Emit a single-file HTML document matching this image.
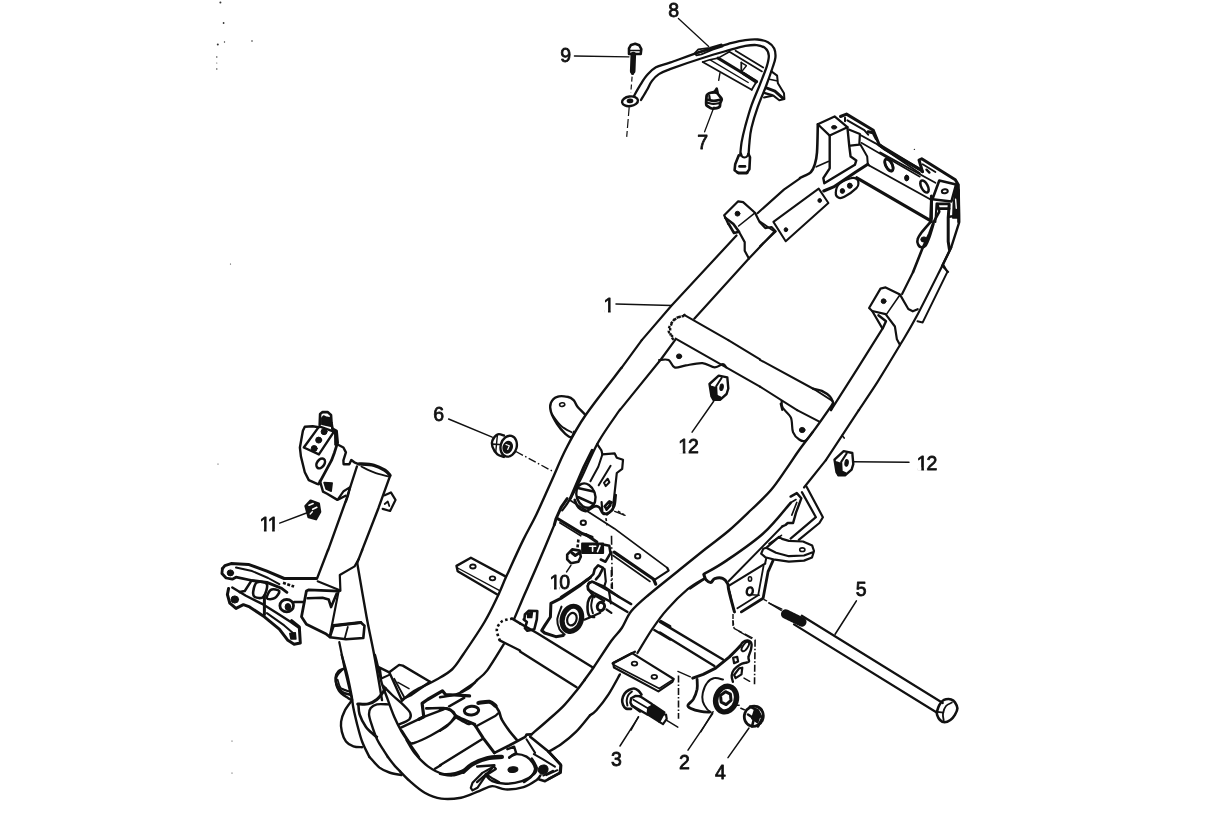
<!DOCTYPE html>
<html><head><meta charset="utf-8"><title>Frame</title>
<style>
html,body{margin:0;padding:0;background:#fff;}
body{width:1214px;height:829px;overflow:hidden;font-family:"Liberation Sans",sans-serif;}
svg{display:block;filter:grayscale(1);font-family:"Liberation Sans",sans-serif;}
</style></head><body>
<svg width="1214" height="829" viewBox="0 0 1214 829" fill="none" stroke="#111" stroke-width="1.6" stroke-linecap="round" stroke-linejoin="round">
<rect x="0" y="0" width="1214" height="829" fill="#fff" stroke="none"/>
<g transform="translate(673 17)"><text x="0" y="0" font-size="19.5" letter-spacing="-1.2" text-anchor="middle" fill="#111" stroke="#111" stroke-width="0.8">8</text></g>
<g transform="translate(565 62)"><text x="0" y="0" font-size="19.5" letter-spacing="-1.2" text-anchor="middle" fill="#111" stroke="#111" stroke-width="0.8">9</text></g>
<g transform="translate(702 149)"><text x="0" y="0" font-size="19.5" letter-spacing="-1.2" text-anchor="middle" fill="#111" stroke="#111" stroke-width="0.8">7</text></g>
<path d="M678.4 18.5 L708.7 46.5" fill="none" stroke="#111" stroke-width="1.3"/>
<path d="M574.4 56 L629 56.8" fill="none" stroke="#111" stroke-width="1.3"/>
<path d="M704.6 131.8 L714 107.1" fill="none" stroke="#111" stroke-width="1.3"/>
<path d="M634 96 C635 94.2 638.1 88.4 640.3 84.9 C642.5 81.4 644.5 78 647.1 75.1 C649.7 72.2 652 69.4 655.9 67.3 C659.8 65.2 662.6 65.2 670.6 62.4 C678.6 59.6 694.1 53.9 704.2 50.7 C714.2 47.5 724.1 45 730.9 43.2 C737.8 41.5 740.9 40.8 745.3 40.2 C749.8 39.5 753.9 39.2 757.7 39.5 C761.5 39.9 765.2 40.7 768 42.2 C770.7 43.7 772.9 45.8 774.2 48.4 C775.4 51 775.7 54.2 775.4 57.7 C775.1 61.1 773.7 64.2 772.1 69 C770.5 73.8 768.3 80.1 765.9 86.5 C763.5 92.8 760.1 100.2 757.7 107.1 C755.3 113.9 752.9 121.8 751.5 127.7 C750.1 133.5 749.9 137.7 749.5 142.1 C749 146.5 748.8 152 748.6 154" fill="none" stroke="#111" stroke-width="2.3"/>
<path d="M641 100 C642 98.3 645.3 92.9 647.1 89.7 C648.9 86.5 650 83.5 652 80.9 C654 78.3 655.9 76 658.9 74.1 C661.9 72.1 662.5 72 670 69.2 C677.5 66.4 694 60.7 704.2 57.5 C714.3 54.2 724.1 51.6 730.9 49.6 C737.8 47.7 741 46.7 745.3 45.9 C749.6 45.2 753.3 44.7 756.7 45.1 C760 45.5 763.5 46.6 765.5 48.4 C767.5 50.1 768.6 52.6 768.8 55.6 C769 58.6 768.3 61.4 766.8 66.3 C765.2 71.2 762.3 78.3 759.8 84.8 C757.2 91.4 753.9 98.6 751.5 105.4 C749.1 112.3 747 119.9 745.3 126 C743.7 132.1 742.5 137.2 741.6 142.1 C740.8 147 740.4 153.2 740.2 155.5" fill="none" stroke="#111" stroke-width="2.3"/>
<path d="M694.8 53.1 L698.3 49.4 L709.7 47.9 L721.5 44.4 L722.7 46.3 L712.6 49.7 L701.3 54.3 L696.3 55.3 Z" fill="none" stroke="#111" stroke-width="1.8"/>
<path d="M698.8 52.1 L709.7 49.2" fill="none" stroke="#111" stroke-width="2.4"/>
<path d="M702.7 62 L751.7 89.7" fill="none" stroke="#111" stroke-width="1.8"/>
<path d="M709.7 59.7 L748.2 82.5" fill="none" stroke="#111" stroke-width="1.4"/>
<path d="M718.1 58.1 L756.6 81.5" fill="none" stroke="#111" stroke-width="3"/>
<path d="M729.4 51.8 L762 71.4" fill="none" stroke="#111" stroke-width="1.8"/>
<path d="M735.6 50.8 L763.2 67.6" fill="none" stroke="#111" stroke-width="1.8"/>
<path d="M702.7 62 L709.7 59.7 L718.1 58.1 L729.4 51.8" fill="none" stroke="#111" stroke-width="1.6"/>
<path d="M741.3 62.5 L741.3 72.6" fill="none" stroke="#111" stroke-width="1.8"/>
<path d="M741.3 62.7 L746.4 65.7 L741.7 71.6" fill="none" stroke="#111" stroke-width="1.4"/>
<path d="M743.3 73.4 L756.1 81.8" fill="none" stroke="#111" stroke-width="3.2"/>
<path d="M751.7 89.7 L756.6 81.5" fill="none" stroke="#111" stroke-width="1.8"/>
<path d="M720 72.9 L718.7 80.3" fill="none" stroke="#111" stroke-width="1.4"/>
<path d="M771.4 71.4 L777.1 75.6 L777.9 83.3 L784 93.3 L784.4 99.1 L779.3 100.3 L773.4 95.6 L764 97.6" fill="none" stroke="#111" stroke-width="2"/>
<path d="M769.5 79.3 L776.4 80.8" fill="none" stroke="#111" stroke-width="1.6"/>
<path d="M767 88.2 L774.9 91.2 L782.8 98.1" fill="none" stroke="#111" stroke-width="3"/>
<path d="M765 93.1 L771.9 95.1" fill="none" stroke="#111" stroke-width="2.4"/>
<path d="M629 48.4 L631 44.9 L635.2 43.7 L639.3 45.3 L641.3 49 L640.7 54 L629 54 Z" fill="none" stroke="#111" stroke-width="2.6"/>
<path d="M630 50.5 L640.7 50.5" fill="none" stroke="#111" stroke-width="1.4"/>
<path d="M633.3 54.5 L632.7 71" fill="none" stroke="#111" stroke-width="5.6"/>
<path d="M632.7 71 L632.6 73.5" fill="none" stroke="#111" stroke-width="3.2"/>
<path d="M632.1 76.6 L630.8 92.7" fill="none" stroke="#111" stroke-width="1.2" stroke-dasharray="5 3" stroke-linecap="butt"/>
<path d="M629.2 107.1 L626.7 136.9" fill="none" stroke="#111" stroke-width="1.2" stroke-dasharray="9 3" stroke-linecap="butt"/>
<ellipse cx="630" cy="101.3" rx="8" ry="4.8" transform="rotate(-8 630 101.3)" fill="none" stroke="#111" stroke-width="2.4"/>
<ellipse cx="630" cy="100.9" rx="2.6" ry="1.6" transform="rotate(-8 630 100.9)" fill="#111" stroke="#111" stroke-width="1.6"/>
<path d="M706.8 95.3 C707.2 94.2 707.8 93.9 708.8 93.4 C709.8 92.9 711.5 92.5 712.8 92.4 C714.1 92.3 715.6 92.2 716.7 92.9 C717.9 93.6 718.9 95.2 719.7 96.3 C720.5 97.4 721.6 98.1 721.7 99.3 C721.8 100.5 720.5 102.1 720.2 103.3 C719.9 104.5 720.3 105.9 719.7 106.7 C719.1 107.5 718 107.9 716.7 108.2 C715.4 108.5 713.2 108.8 711.8 108.5 C710.4 108.2 709.2 107.3 708.3 106.7 C707.4 106.1 706.6 106 706.3 104.8 C706 103.6 706.2 101.4 706.3 99.8 C706.4 98.2 706.4 96.4 706.8 95.3 Z" fill="none" stroke="#111" stroke-width="2.8"/>
<path d="M712.8 92.4 L714.8 91.4 L716.7 88.4 L717.7 92.6" fill="none" stroke="#111" stroke-width="2.4"/>
<path d="M707.8 99.8 C708.8 100 711.7 100.9 713.8 100.9 C715.9 100.9 719.1 100 720.2 99.8" fill="none" stroke="#111" stroke-width="2.6"/>
<path d="M707.3 102.6 C708.3 102.8 711.2 103.9 713.3 104 C715.4 104.1 718.6 103.2 719.7 103" fill="none" stroke="#111" stroke-width="2.2"/>
<path d="M709.3 95.8 L709.8 99.3" fill="none" stroke="#111" stroke-width="2.2"/>
<path d="M817.8 124.3 L834.6 116.4 L847.4 127.2 L829.7 135.6 Z" fill="none" stroke="#111" stroke-width="2.2"/>
<ellipse cx="834.1" cy="127.3" rx="2.6" ry="1.8" transform="rotate(0 834.1 127.3)" fill="#111" stroke="#111" stroke-width="1"/>
<path d="M817.8 124.3 C817.7 129 817.5 145.8 817 152.4 C816.5 159.1 815.8 161 814.8 164.3 C813.8 167.6 812.5 170.3 810.9 172.2 C809.2 174.1 806.8 174.7 804.9 175.7 C803.1 176.6 800.8 177.6 800 177.9" fill="none" stroke="#111" stroke-width="2.6"/>
<path d="M829.7 135.6 L829.7 168.3 L823.3 178.1 L824.3 183.3 L854.9 164.8 L856.3 160.4 L850.6 156.6 L849.2 145.5 L847.4 127.2" fill="none" stroke="#111" stroke-width="2.4"/>
<path d="M828.2 161.5 L816.3 166.8" fill="none" stroke="#111" stroke-width="1.8"/>
<path d="M840.5 116.5 L846.5 114.1 L873.3 130.3 L879.1 144.5 L884 148.7 L919.9 169.4" fill="none" stroke="#111" stroke-width="3"/>
<path d="M845 117.4 L845 121.3" fill="none" stroke="#111" stroke-width="2"/>
<path d="M847.4 120.3 L864.3 130.2 L868.2 134.7" fill="none" stroke="#111" stroke-width="2"/>
<path d="M868.2 131.7 L873.1 132.7 L876.1 138.6" fill="none" stroke="#111" stroke-width="3"/>
<path d="M849.4 129.7 L859.9 133.9 L859.3 144.7 L850.4 145.7" fill="none" stroke="#111" stroke-width="2.2"/>
<path d="M859.9 134.7 L875.1 143.1 L919.9 173.2" fill="none" stroke="#111" stroke-width="1.8"/>
<path d="M861.3 142.8 L919.9 176.7" fill="none" stroke="#111" stroke-width="1.6"/>
<path d="M860.5 144.7 L867.2 156.6 L867.8 164.3 L869.2 165.5" fill="none" stroke="#111" stroke-width="2"/>
<path d="M869.2 165.5 L930.6 199.5" fill="none" stroke="#111" stroke-width="2"/>
<path d="M856.8 177.8 L931.3 221.1" fill="none" stroke="#111" stroke-width="3.2"/>
<path d="M867.8 164.3 L855.4 172.2 L833.6 186.9 L823.7 191" fill="none" stroke="#111" stroke-width="3"/>
<ellipse cx="889" cy="164.8" rx="3.2" ry="6.6" transform="rotate(-28 889 164.8)" fill="none" stroke="#111" stroke-width="2.6"/>
<ellipse cx="906.8" cy="177.7" rx="1.8" ry="2.6" transform="rotate(0 906.8 177.7)" fill="#111" stroke="#111" stroke-width="1"/>
<path d="M880 145.4 L919.5 169.2 L922.5 171.6" fill="none" stroke="#111" stroke-width="3"/>
<path d="M922.5 171.6 L919 160 L921.7 158.8 L955.3 179.7 L958.3 184.7 L958.7 221.9" fill="none" stroke="#111" stroke-width="3"/>
<path d="M922.7 164.2 L935.4 172.1" fill="none" stroke="#111" stroke-width="1.8"/>
<path d="M926.5 169.7 L929.4 172.6" fill="none" stroke="#111" stroke-width="2.4"/>
<path d="M880 152.4 L935.4 182.7" fill="none" stroke="#111" stroke-width="1.8"/>
<ellipse cx="888.9" cy="165.2" rx="3.2" ry="6.6" transform="rotate(-28 888.9 165.2)" fill="none" stroke="#111" stroke-width="2.6"/>
<ellipse cx="924.5" cy="186.5" rx="3.2" ry="6.6" transform="rotate(-28 924.5 186.5)" fill="none" stroke="#111" stroke-width="2.6"/>
<ellipse cx="906.7" cy="178.1" rx="2" ry="2.8" transform="rotate(0 906.7 178.1)" fill="#111" stroke="#111" stroke-width="1"/>
<path d="M939.3 180.5 L956.1 184.5 L951.4 201.5 L932.4 199.3 Z" fill="none" stroke="#111" stroke-width="2.6"/>
<ellipse cx="944.8" cy="191.2" rx="3" ry="2" transform="rotate(-8 944.8 191.2)" fill="none" stroke="#111" stroke-width="2.0"/>
<path d="M956.3 186 L953.3 203.3 L952.8 218.1 L958.1 218.1 L958.3 187.4 Z" fill="#111" stroke="#111" stroke-width="1.5"/>
<path d="M955.6 199.3 L956.3 208.2" fill="none" stroke="#fff" stroke-width="1.4"/>
<path d="M931.6 199.5 L930.6 221.9" fill="none" stroke="#111" stroke-width="3"/>
<path d="M936.5 203.5 L935.4 221.9" fill="none" stroke="#111" stroke-width="2"/>
<path d="M938.3 204.3 L949.2 204.3" fill="none" stroke="#111" stroke-width="2"/>
<path d="M938.3 208.4 L948.4 208.4" fill="none" stroke="#111" stroke-width="2"/>
<path d="M931.4 195.9 L931.4 218.7" fill="none" stroke="#111" stroke-width="3"/>
<path d="M937.3 203.8 L939.3 211.7 L933.4 222.6 L929.4 233.5 L922.5 248.3 L913.1 271.9" fill="none" stroke="#111" stroke-width="2.6"/>
<path d="M958.7 190 L959.1 214.7 L959.1 222.6 L951.2 247.3 L942.1 266.1" fill="none" stroke="#111" stroke-width="2.4"/>
<path d="M949.2 204.8 L948.2 217.7 L948.2 241.4 L949.4 249.3" fill="none" stroke="#111" stroke-width="3"/>
<path d="M949.2 216.7 L955.1 215.9 L958.1 214.7" fill="none" stroke="#111" stroke-width="2.4"/>
<path d="M938.3 203.8 L949.2 203.8" fill="none" stroke="#111" stroke-width="2.4"/>
<path d="M938.3 208.8 L949.2 208.8" fill="none" stroke="#111" stroke-width="2.4"/>
<path d="M943.3 267.1 L948.2 271.9" fill="none" stroke="#111" stroke-width="2"/>
<path d="M929.9 222.6 C928.5 224.3 923.6 229.7 921.5 232.5 C919.5 235.3 918.1 237.4 917.6 239.4 C917 241.4 917.4 243 918.1 244.4 C918.7 245.7 920.2 247.2 921.5 247.3 C922.8 247.5 924.3 247.2 925.7 245.4 C927 243.5 928.3 240 929.6 236.5 C930.9 232.9 932.8 226.2 933.4 224.1" fill="none" stroke="#111" stroke-width="2.6"/>
<ellipse cx="924" cy="239.5" rx="3.2" ry="2.6" transform="rotate(0 924 239.5)" fill="#111" stroke="#111" stroke-width="1"/>
<path d="M835.8 192.7 C835.9 190.4 836.6 186.4 839.1 184 C841.5 181.6 847.7 179.1 850.6 178.3 C853.6 177.4 855.5 178.2 856.8 179.1 C858.1 179.9 858.5 181.9 858.4 183.4 C858.4 184.9 858.7 185.9 856.4 188.1 C854 190.4 847.5 195.2 844.4 196.8 C841.4 198.4 839.7 198.3 838.3 197.6 C836.8 196.9 835.6 194.9 835.8 192.7 Z" fill="none" stroke="#111" stroke-width="2.2"/>
<ellipse cx="842.4" cy="191" rx="2.2" ry="2.4" transform="rotate(0 842.4 191)" fill="#111" stroke="#111" stroke-width="1"/>
<ellipse cx="849.8" cy="185.7" rx="2.4" ry="2.6" transform="rotate(0 849.8 185.7)" fill="#111" stroke="#111" stroke-width="1"/>
<path d="M773.4 221.9 L818.7 188.6 L828.4 203 L785.7 241.3 Z" fill="none" stroke="#111" stroke-width="2"/>
<ellipse cx="819.7" cy="200.5" rx="1.8" ry="2" transform="rotate(0 819.7 200.5)" fill="#111" stroke="#111" stroke-width="1"/>
<ellipse cx="785.9" cy="229.7" rx="1.8" ry="2" transform="rotate(0 785.9 229.7)" fill="#111" stroke="#111" stroke-width="1"/>
<path d="M775.4 231.8 L760 246.2" fill="none" stroke="#111" stroke-width="2"/>
<path d="M760 221.5 L769.3 228.1 L774.8 231.8" fill="none" stroke="#111" stroke-width="1.8"/>
<g transform="translate(608.4 312)"><text x="0" y="0" font-size="19.5" letter-spacing="-1.2" text-anchor="middle" fill="#111" stroke="#111" stroke-width="0.8">1</text><rect x="-4.23" y="-2.15" width="3.85" height="3.5" fill="#fff" stroke="none"/><rect x="2.27" y="-2.15" width="3.4" height="3.5" fill="#fff" stroke="none"/></g>
<path d="M616 303.9 L671.6 305.5" fill="none" stroke="#111" stroke-width="1.5"/>
<path d="M641.8 340.1 L671.6 305.5 L736.5 235.5" fill="none" stroke="#111" stroke-width="2.2"/>
<path d="M757.5 213.2 L783.9 189.6 L800 178.3" fill="none" stroke="#111" stroke-width="2.2"/>
<path d="M694.3 318.7 L748.9 258.6 L774.6 231.4" fill="none" stroke="#111" stroke-width="2.2"/>
<path d="M728.3 224 L724.2 215.3 L738.2 201.3 L743.1 202.1 L755 212.8 L759.6 221.9 L765.3 228.1 L771.5 227 L775.6 231.2" fill="none" stroke="#111" stroke-width="2.2"/>
<path d="M738.6 226 L755 212.8" fill="none" stroke="#111" stroke-width="1.6"/>
<path d="M725.2 217.8 L733.4 224 L739 231.8 L734 233 L728.7 224" fill="none" stroke="#111" stroke-width="2.6"/>
<path d="M739 231.8 L744.7 242.1 L744.7 250.7 L748.9 258.6" fill="none" stroke="#111" stroke-width="2.2"/>
<ellipse cx="737.5" cy="213.7" rx="2.4" ry="2.4" transform="rotate(0 737.5 213.7)" fill="#111" stroke="#111" stroke-width="1"/>
<path d="M685 315.4 L728.3 340.1" fill="none" stroke="#111" stroke-width="2"/>
<path d="M684 315.8 C682.5 316.3 677.4 316.9 675.1 318.7 C672.9 320.5 671.4 323.8 670.6 326.5 C669.9 329.2 670.1 332.5 670.6 334.7 C671.1 337 673.2 339.2 673.7 340.1" fill="none" stroke="#111" stroke-width="2.4" stroke-dasharray="2.5 2.5" stroke-linecap="butt"/>
<path d="M913.1 272 L902.1 294" fill="none" stroke="#111" stroke-width="2.2"/>
<path d="M882.5 328.6 L856.8 369.7 L831 410.1" fill="none" stroke="#111" stroke-width="2.2"/>
<path d="M951.2 247.4 C949.8 250.3 948.6 253.2 942.8 264.7 C937 276.2 923.6 303.2 916.5 316.6 C909.4 330 906.6 334.1 900 345 C893.5 355.9 884.2 371.2 877.4 382.1 C870.5 392.9 861.9 405.4 858.8 410.1" fill="none" stroke="#111" stroke-width="2.2"/>
<path d="M943.3 264.7 L947.4 271.9 L922.7 322.4 L917.5 321.3" fill="none" stroke="#111" stroke-width="2"/>
<path d="M882.5 328.6 L872.2 311 L869.1 308 L880.5 288.6 L885.6 287.4 L900 294.6 L908.3 309 L912.8 311.3 L917.7 309.2" fill="none" stroke="#111" stroke-width="2.2"/>
<path d="M872.2 311 L885.6 314.1 L894.9 326.5 L896.9 339.3 L900 345" fill="none" stroke="#111" stroke-width="2.2"/>
<path d="M886.6 314.1 L900 294.8" fill="none" stroke="#111" stroke-width="1.6"/>
<path d="M878.4 315.2 L886 321.3 L882.9 328.1" fill="none" stroke="#111" stroke-width="2.4"/>
<ellipse cx="883.6" cy="301.2" rx="2.4" ry="2.4" transform="rotate(0 883.6 301.2)" fill="#111" stroke="#111" stroke-width="1"/>
<path d="M760 359.9 L814.6 389.5 L832.5 401" fill="none" stroke="#111" stroke-width="2"/>
<path d="M813.1 388.7 C814.6 389.1 819 389.6 821.8 390.9 C824.6 392.3 828.1 394.5 830 396.5 C831.9 398.5 832.8 402 833.3 403.1" fill="none" stroke="#111" stroke-width="2.4"/>
<path d="M760 386.6 L797.1 410.1" fill="none" stroke="#111" stroke-width="2"/>
<path d="M780.6 403.7 L782.2 410.1" fill="none" stroke="#111" stroke-width="2"/>
<g transform="translate(688 452.5)"><text x="0" y="0" font-size="19.5" letter-spacing="-1.2" text-anchor="middle" fill="#111" stroke="#111" stroke-width="0.8">12</text><rect x="-9.05" y="-2.15" width="3.85" height="3.5" fill="#fff" stroke="none"/><rect x="-2.55" y="-2.15" width="2.99" height="3.5" fill="#fff" stroke="none"/></g>
<path d="M713.7 401.2 L692.1 432.1" fill="none" stroke="#111" stroke-width="1.5"/>
<path d="M641.8 340.1 L621.5 367.8" fill="none" stroke="#111" stroke-width="2.2"/>
<path d="M675.2 339.8 L661.2 359 L620 409.9" fill="none" stroke="#111" stroke-width="2.2"/>
<path d="M728.3 340.1 L760 359.4" fill="none" stroke="#111" stroke-width="2"/>
<path d="M675.6 338.6 L760 386.6" fill="none" stroke="#111" stroke-width="2"/>
<path d="M797.1 410.1 L819.8 421.8" fill="none" stroke="#111" stroke-width="2"/>
<path d="M685.5 314.7 C683.6 315.6 676.8 317.4 674 320.1 C671.1 322.7 668.5 327.7 668.6 330.8 C668.7 333.9 673.7 337.3 674.8 338.6" fill="none" stroke="#111" stroke-width="2.4" stroke-dasharray="2.5 2.5" stroke-linecap="butt"/>
<path d="M659.1 360 C660.7 360 666 358.8 668.6 360 C671.2 361.3 671.7 366.5 674.6 367.4 C677.5 368.3 681.3 366.1 685.9 365.4 C690.5 364.6 697.6 362.8 702.4 363.1 C707.2 363.4 711.3 367.3 714.7 367.4 C718.2 367.6 721 364.1 723 364.1 C724.9 364.1 725.7 366.9 726.3 367.4" fill="none" stroke="#111" stroke-width="2.2"/>
<ellipse cx="679.1" cy="356.3" rx="2.6" ry="2.4" transform="rotate(0 679.1 356.3)" fill="#111" stroke="#111" stroke-width="1"/>
<path d="M781.7 401.2 C781.8 402.3 781.1 405 782.7 407.8 C784.2 410.5 789.2 413.6 790.9 417.7 C792.6 421.7 791.6 428.5 793 432.1 C794.4 435.7 797.1 438.1 799.2 439.5 C801.2 440.9 803.1 442 805.3 440.7 C807.6 439.5 811.5 433.5 812.8 432.1" fill="none" stroke="#111" stroke-width="2.2"/>
<ellipse cx="802.2" cy="430" rx="2.8" ry="2.6" transform="rotate(0 802.2 430)" fill="#111" stroke="#111" stroke-width="1"/>
<path d="M858.8 410.1 L825.9 460.1" fill="none" stroke="#111" stroke-width="2.2"/>
<g transform="translate(926.5 469.5)"><text x="0" y="0" font-size="19.5" letter-spacing="-1.2" text-anchor="middle" fill="#111" stroke="#111" stroke-width="0.8">12</text><rect x="-9.05" y="-2.15" width="3.85" height="3.5" fill="#fff" stroke="none"/><rect x="-2.55" y="-2.15" width="2.99" height="3.5" fill="#fff" stroke="none"/></g>
<path d="M853.4 461.8 L909 462.2" fill="none" stroke="#111" stroke-width="1.5"/>
<path d="M825.9 460.1 L804 487.5" fill="none" stroke="#111" stroke-width="2.2"/>
<path d="M842.1 435.4 L844.2 438.1" fill="none" stroke="#111" stroke-width="1.6"/>
<path d="M790.6 502.8 C786.1 507.8 774.5 523.2 763.8 532.9 C753.2 542.5 736.7 553.6 726.8 560.4 C716.8 567.3 707.9 571.8 704.1 574" fill="none" stroke="#111" stroke-width="2.6"/>
<path d="M806.3 486.3 L822.9 517.2 L819.4 523 L798.8 539.9" fill="none" stroke="#111" stroke-width="2.2"/>
<path d="M801.9 492.1 L815.9 517.2 L790.6 538.6" fill="none" stroke="#111" stroke-width="2.2"/>
<path d="M790.6 496.6 L796.8 493.1 L801.3 498.3 L796 512.7 L793.1 523 L787.7 523 L785.5 525 L782.4 526.3" fill="none" stroke="#111" stroke-width="2.4"/>
<path d="M790.6 502.8 L796 499.5" fill="none" stroke="#111" stroke-width="1.6"/>
<path d="M791.8 515.1 L796.8 502.4" fill="none" stroke="#111" stroke-width="1.6"/>
<path d="M782.4 526.3 L728.8 581" fill="none" stroke="#111" stroke-width="2"/>
<path d="M781.5 535.3 L769 543.6" fill="none" stroke="#111" stroke-width="1.6"/>
<path d="M766.2 547.8 L763.2 548.8 L761.2 553.7 L765.2 557.2 L775 559.7 L788.9 561.6 L804 560.6 L812 557.5 L814 551 L812.2 545.6 L803 541.5 L788.9 540.9 L782 538.9 L779 536.9 L766.2 547.8 L776 552.7 L788.9 556.2 L804 555.5 L813.5 552" fill="none" stroke="#111" stroke-width="2.2"/>
<ellipse cx="802.3" cy="549.7" rx="2.6" ry="1.8" transform="rotate(0 802.3 549.7)" fill="none" stroke="#111" stroke-width="1.6"/>
<g transform="translate(860.5 595.5)"><text x="0" y="0" font-size="19.5" letter-spacing="-1.2" text-anchor="middle" fill="#111" stroke="#111" stroke-width="0.8">5</text></g>
<path d="M856.4 600.9 L835.1 634.3" fill="none" stroke="#111" stroke-width="1.6"/>
<path d="M801.8 615.7 L942.8 703" fill="none" stroke="#111" stroke-width="2.2"/>
<path d="M794 624.4 L936.7 712.5" fill="none" stroke="#111" stroke-width="2.2"/>
<path d="M785.7 614.1 L801.8 621.9" stroke="#111" stroke-width="9.5" stroke-linecap="round" stroke-dasharray="2.2 1.2"/>
<path d="M768.8 602.9 L781.2 610.4" fill="none" stroke="#111" stroke-width="1.4"/>
<path d="M942.3 701.1 C943.4 700.1 944.5 699.6 946 699.3 C947.5 699 949.6 698.9 951.1 699.4 C952.6 699.9 953.9 700.7 954.9 702.2 C955.9 703.7 957.4 706.1 957.4 708.2 C957.4 710.3 956.1 712.8 954.9 714.8 C953.7 716.8 952.1 718.8 950.4 720 C948.7 721.2 946.2 722.3 944.5 722.3 C942.8 722.3 941.2 721.2 940 720 C938.8 718.8 937.6 716.3 937.1 714.8 C936.6 713.3 936.7 712.7 937.1 711.1 C937.5 709.5 938.4 706.9 939.3 705.2 C940.2 703.5 941.2 702.1 942.3 701.1 Z" fill="none" stroke="#111" stroke-width="2.6"/>
<path d="M951.9 702.6 C950.9 703.2 947.5 704.2 946 706 C944.5 707.8 943.4 711 943 713.4 C942.6 715.8 943.6 719.3 943.7 720.5" fill="none" stroke="#111" stroke-width="1.8"/>
<path d="M937.4 711.9 L943.4 712.6" fill="none" stroke="#111" stroke-width="1.6"/>
<path d="M692.7 678.1 L703.2 674.4 L715.6 668.2 L729.2 657.1 L736.6 649.7 L740.3 645.9" fill="none" stroke="#111" stroke-width="3"/>
<path d="M740.3 645.9 C740.7 645.3 741.5 643.1 742.8 642.2 C744 641.3 746.3 640.3 747.7 640.5 C749.2 640.7 750.9 642 751.4 643.5 C752 645 751.4 647.4 750.9 649.7 C750.4 651.9 748.8 655.1 748.5 657.1 C748.1 659 749.5 660.6 749 661.5 C748.4 662.5 746.7 662.3 745.3 662.8 C743.8 663.2 742.2 663.4 740.3 664.5 C738.5 665.6 735.6 667.6 734.1 669.4 C732.7 671.3 731.9 673.5 731.7 675.6 C731.5 677.7 732.7 680.7 732.9 681.8" fill="none" stroke="#111" stroke-width="2.4"/>
<ellipse cx="745.3" cy="646.6" rx="2.4" ry="5.4" transform="rotate(35 745.3 646.6)" fill="none" stroke="#111" stroke-width="2.0"/>
<path d="M733.1 657.7 L737.2 656.8 L738.1 661.4 L734.1 663.2 Z" fill="none" stroke="#111" stroke-width="2.2"/>
<path d="M734.1 675 L739.1 668.4 L742.3 667.7 L741.5 674.4 L735.6 678.1 Z" fill="none" stroke="#111" stroke-width="2.2"/>
<path d="M697.1 679.3 C697.1 681 697.7 685.9 697.1 689.2 C696.4 692.5 694.9 696.4 693.4 699.1 C691.8 701.8 688.3 703.7 687.9 705.3 C687.5 706.8 688.7 707.4 690.9 708.5 C693 709.5 697.7 710.8 700.8 711.4 C703.9 712.1 708 712.1 709.4 712.2" fill="none" stroke="#111" stroke-width="2.8"/>
<path d="M723 679.6 C721.6 679.3 717 677.5 714.4 678.1 C711.7 678.6 708.9 680.5 707 683 C705 685.5 703.5 689.8 702.8 692.9 C702.1 696 702.1 698.9 702.8 701.5 C703.5 704.2 705.6 707.2 707 709 C708.3 710.7 710.2 711.6 710.9 712.2" fill="none" stroke="#111" stroke-width="2"/>
<ellipse cx="726.1" cy="699.1" rx="10.2" ry="13" transform="rotate(18 726.1 699.1)" fill="none" stroke="#111" stroke-width="5.4"/>
<path d="M720.5 695.4 L725.5 691.7 L730.4 694.1 L731 700.3 L726.1 704.6 L721.2 702.2 Z" fill="none" stroke="#111" stroke-width="3"/>
<path d="M736.6 705.3 L739.1 705.3" fill="none" stroke="#111" stroke-width="1.6"/>
<path d="M740.9 708.3 L744.3 709.7" fill="none" stroke="#111" stroke-width="1.6"/>
<path d="M677.9 671.4 L690.4 676.8" fill="none" stroke="#111" stroke-width="1.4"/>
<path d="M678.5 675.6 L678.5 718.8" fill="none" stroke="#111" stroke-width="1.6" stroke-dasharray="7 2 1.5 2" stroke-linecap="butt"/>
<path d="M755.1 639.8 L754.5 684.3" fill="none" stroke="#111" stroke-width="1.6" stroke-dasharray="7 2 1.5 2" stroke-linecap="butt"/>
<path d="M739.1 631.4 L751.4 638.5" fill="none" stroke="#111" stroke-width="1.4"/>
<path d="M732.9 620 L734.1 628.6" fill="none" stroke="#111" stroke-width="1.4" stroke-dasharray="5 2" stroke-linecap="butt"/>
<path d="M744 678.1 L749.7 681.3" fill="none" stroke="#111" stroke-width="1.4"/>
<path d="M660 621.9 L723 659.5" fill="none" stroke="#111" stroke-width="2.4"/>
<path d="M660 632.4 L714.4 666" fill="none" stroke="#111" stroke-width="2.4"/>
<path d="M713.1 711.7 L700.8 731.8" fill="none" stroke="#111" stroke-width="1.5"/>
<ellipse cx="753.8" cy="716.2" rx="9.4" ry="10.2" transform="rotate(20 753.8 716.2)" fill="none" stroke="#111" stroke-width="2.8"/>
<path d="M750 706.5 L758 710.5 L762 718.5 L758 726.5" fill="none" stroke="#111" stroke-width="2.6"/>
<path d="M748 714.5 L754 718.5 L752 726.5" fill="none" stroke="#111" stroke-width="2.6"/>
<path d="M755 709 L760 714.5 L757.5 722.5 L752 718.5 Z" fill="#111" stroke="#111" stroke-width="2"/>
<path d="M831 410.1 L832.8 403.8" fill="none" stroke="#111" stroke-width="2.2"/>
<path d="M832.8 403.8 C830 407.8 821.6 419.9 816 427.6 C810.4 435.3 804.1 443.2 799.2 450 C794.3 456.8 791.2 461.9 786.5 468.6 C781.8 475.3 776.8 483.2 771 490 C765.2 496.8 758.5 502.8 751.5 509.5 C744.5 516.2 736.6 524 729 530.5 C721.4 537 714.6 541.7 706 548.5 C697.4 555.3 687.1 563.8 677.5 571.5 C667.9 579.2 656.2 588.4 648.5 595 C640.8 601.6 635.7 605.8 631.2 611.3 C626.8 616.8 625.1 623 621.8 628 C618.5 633 615.9 634.5 611.2 641 C606.6 647.5 598.3 660.5 593.9 667 C589.5 673.5 586.1 677.8 584.6 680" fill="none" stroke="#111" stroke-width="2.4"/>
<path d="M704.2 578.5 C701.4 580.3 693.9 584.1 687.7 589.2 C681.5 594.4 672.9 602.9 667.1 609.4 C661.2 615.9 657.6 621.1 652.7 628.4 C647.7 635.6 640 649 637.4 653.1" fill="none" stroke="#111" stroke-width="2.2"/>
<path d="M619.9 674.4 C618 677.7 612.6 688.1 608.7 694.1 C604.8 700.1 599.5 706.7 596.4 710.2 C593.3 713.7 591.1 714.4 590 715.2" fill="none" stroke="#111" stroke-width="2.4"/>
<path d="M703.8 574.5 C704.2 575.3 704.7 578.1 705.8 579.4 C707 580.7 709.3 582.5 710.8 582.4 C712.2 582.3 712.7 579.3 714.7 578.6 C716.7 578 720.5 577.6 722.6 578.4 C724.8 579.2 726.6 581.6 727.6 583.4 C728.6 585.2 727.9 586.3 728.6 589.3 C729.2 592.3 730.5 597.4 731.5 601.2 C732.5 604.9 734 610.1 734.5 611.9" fill="none" stroke="#111" stroke-width="3"/>
<path d="M729.7 591.5 L733.5 609.1" fill="none" stroke="#111" stroke-width="1.6"/>
<path d="M690 588.5 L703.8 579.4" fill="none" stroke="#111" stroke-width="2.2"/>
<path d="M729.5 585.4 L765.1 563.6" fill="none" stroke="#111" stroke-width="2.2"/>
<path d="M766.1 558.7 L765.1 563.6" fill="none" stroke="#111" stroke-width="2"/>
<path d="M773 560.6 L769.1 569.5 L768.1 571.5 L763.1 598.2 L741.4 611.9" fill="none" stroke="#111" stroke-width="2.8"/>
<path d="M763.6 565.6 L758.2 595.2 L737.4 608.3" fill="none" stroke="#111" stroke-width="1.8"/>
<ellipse cx="750" cy="579" rx="1.6" ry="2.2" transform="rotate(0 750 579)" fill="none" stroke="#111" stroke-width="1.6"/>
<ellipse cx="749.8" cy="591.3" rx="3" ry="4" transform="rotate(15 749.8 591.3)" fill="none" stroke="#111" stroke-width="2.4"/>
<path d="M751.3 594.8 L759.2 595.2" fill="none" stroke="#111" stroke-width="1.6"/>
<path d="M764.1 599.7 L766.6 600.8" fill="none" stroke="#111" stroke-width="1.4"/>
<path d="M769.1 603.1 L781.9 609.1" fill="none" stroke="#111" stroke-width="1.4"/>
<path d="M733 614 L733 628" fill="none" stroke="#111" stroke-width="1.4" stroke-dasharray="5 2" stroke-linecap="butt"/>
<path d="M734 628.4 L755.6 639.5" fill="none" stroke="#111" stroke-width="1.4" stroke-dasharray="9 3" stroke-linecap="butt"/>
<path d="M660.9 621 L670.2 626.3" fill="none" stroke="#111" stroke-width="2.4"/>
<path d="M654.3 630 L670.2 639.5" fill="none" stroke="#111" stroke-width="2.4"/>
<path d="M613.1 663 L632.1 653.1 L673.7 679 L672.4 681.9 L658.4 691.4 L614 667.5 Z" fill="none" stroke="#111" stroke-width="2.2"/>
<path d="M614 665 L659.3 688.5 L673.3 679.4" fill="none" stroke="#111" stroke-width="1.6"/>
<ellipse cx="634.5" cy="663.6" rx="2.8" ry="2" transform="rotate(0 634.5 663.6)" fill="none" stroke="#111" stroke-width="1.8"/>
<ellipse cx="654.3" cy="676.8" rx="2.8" ry="2" transform="rotate(0 654.3 676.8)" fill="none" stroke="#111" stroke-width="1.8"/>
<path d="M641.5 694.5 C641 693.9 639.7 691.8 638.5 690.8 C637.3 689.8 635.7 688.6 634.1 688.5 C632.5 688.4 630.5 689.1 628.9 690 C627.3 690.9 625.6 692.1 624.5 693.7 C623.4 695.3 622.5 697.9 622.2 699.7 C622 701.6 622.4 703.3 623 704.8 C623.6 706.3 624.5 707.8 625.9 708.5 C627.2 709.2 630.2 708.8 631.1 708.9" fill="none" stroke="#111" stroke-width="2.6"/>
<path d="M631.9 691.5 C631.3 692.1 629.1 693.7 628.2 695.2 C627.3 696.7 626.8 698.7 626.7 700.4 C626.6 702.1 627.3 704.7 627.4 705.6" fill="none" stroke="#111" stroke-width="2"/>
<path d="M640 696.3 L635.6 695.9 L631.1 698.2 L630.4 702.6 L631.9 705.6 L640 711.5" fill="none" stroke="#111" stroke-width="2.4"/>
<path d="M640 696.3 L651.9 704.1" fill="none" stroke="#111" stroke-width="2.4"/>
<path d="M633.4 699.7 L648.2 708.5" fill="none" stroke="#111" stroke-width="1.8"/>
<path d="M631.9 705.6 L647.4 714.5" fill="none" stroke="#111" stroke-width="2.4"/>
<path d="M648.2 707.8 L653.4 704.8 L664.5 712.3 L659.3 721.9 L647.4 714.5 Z" fill="#111" stroke="#111" stroke-width="2"/>
<path d="M661.5 714.5 L666 714.5 L666.7 718.9 L663 724.1 L659.3 721.9" fill="none" stroke="#111" stroke-width="2.2"/>
<path d="M666.7 720.4 L677.8 727.1" fill="none" stroke="#111" stroke-width="1.5"/>
<path d="M638.3 716.9 L631 730.1" fill="none" stroke="#111" stroke-width="1.5"/>
<g transform="translate(438 421)"><text x="0" y="0" font-size="19.5" letter-spacing="-1.2" text-anchor="middle" fill="#111" stroke="#111" stroke-width="0.8">6</text></g>
<path d="M448.6 419 L492.2 437.1" fill="none" stroke="#111" stroke-width="1.5"/>
<path d="M621.5 367.8 C615.5 375.7 594.7 401.9 585.5 415.3 C576.3 428.7 572 437.3 566.3 448.3 C560.6 459.3 556.4 470.2 551.4 481.2 C546.4 492.2 541.2 504.4 536.5 514.2 C531.8 524 528.1 529.9 523.1 540.1 C518.1 550.3 510.9 566.4 506.7 575.6 C502.5 584.8 501.8 587.7 498.1 595.4 C494.4 603.1 490.3 612.2 484.5 622 C478.7 631.8 468.9 646.1 463.5 654 C458.1 661.9 456.6 665.2 452 669.5 C447.4 673.8 442.5 676.1 436.2 679.7 C429.9 683.3 419.8 687.6 414 691.1 C408.2 694.6 403.7 699.4 401.6 701" fill="none" stroke="#111" stroke-width="2.4"/>
<path d="M619.9 409.7 C616.3 415.1 604.6 430.9 598.3 442.1 C591.9 453.3 586.6 467.4 581.8 477.1 C577 486.8 572.7 494.6 569.4 500.1 C566.2 505.7 563.4 508.7 562.2 510.4" fill="none" stroke="#111" stroke-width="2.2"/>
<path d="M584.9 414.3 C583.7 413.1 579.6 409.4 577.7 407.1 C575.8 404.7 575.3 401.8 573.6 400.1 C571.8 398.3 570.1 397.3 567.4 396.8 C564.6 396.2 559.8 395.7 557.1 396.8 C554.3 397.8 551.9 400.5 550.9 402.9 C549.9 405.4 549.9 408.1 550.9 411.6 C551.9 415.1 554.7 420.2 557.1 424 C559.5 427.7 562.9 431.6 565.3 433.8 C567.7 436 570.1 437.5 571.5 437.1 C572.9 436.8 573.6 432.7 574 431.8" fill="none" stroke="#111" stroke-width="2.4"/>
<path d="M551.9 414.3 C553.5 416.2 557.9 423 561.2 426 C564.5 429 569.8 431.2 571.5 432.2" fill="none" stroke="#111" stroke-width="1.8"/>
<ellipse cx="562.2" cy="404.6" rx="2.6" ry="1.8" transform="rotate(-10 562.2 404.6)" fill="none" stroke="#111" stroke-width="1.6"/>
<ellipse cx="508.7" cy="446.2" rx="8" ry="10.6" transform="rotate(15 508.7 446.2)" fill="none" stroke="#111" stroke-width="2.4"/>
<path d="M504 435.5 C502.9 435.3 499.7 433.4 497.8 434.3 C495.9 435.1 493.3 438.4 492.4 440.4 C491.5 442.5 491.6 444.3 492.4 446.6 C493.2 448.9 495.4 452.7 497.4 454.4 C499.3 456.1 502.9 456.5 504 456.9" fill="none" stroke="#111" stroke-width="2.4"/>
<path d="M497.4 435.1 L495.7 452.4" fill="none" stroke="#111" stroke-width="1.4"/>
<ellipse cx="507.7" cy="447.2" rx="4.4" ry="5.8" transform="rotate(18 507.7 447.2)" fill="#111" stroke="#111" stroke-width="1.5"/>
<path d="M506 444.5 L509.3 445.8 L507.7 449.5" fill="none" stroke="#fff" stroke-width="1.2"/>
<path d="M492.4 444.1 L499.4 444.5" fill="none" stroke="#111" stroke-width="1.6"/>
<path d="M515.9 451.5 L551.9 470.9" fill="none" stroke="#111" stroke-width="1.4" stroke-dasharray="8 2.5 1.5 2.5" stroke-linecap="butt"/>
<path d="M592.1 450.3 L583.9 466.8 L570.5 498.1" fill="none" stroke="#111" stroke-width="3"/>
<path d="M597.2 444.1 L601.4 450.3 L602.4 454.4 L614.7 453.4 L616.8 457.7 L623 459.8 L622.2 468.8 L616.8 473 L612.7 510 L606.9 514.6 L602.4 512.1 L601.6 502.2" fill="none" stroke="#111" stroke-width="2.2"/>
<path d="M602.4 454.4 L598.3 466.8 L590.4 481.2" fill="none" stroke="#111" stroke-width="2"/>
<path d="M610.6 465.8 L598.7 485.3" fill="none" stroke="#111" stroke-width="2"/>
<path d="M604 482.9 L607.7 478.7 L609.4 482.2 L605.7 486.1 Z" fill="none" stroke="#111" stroke-width="2"/>
<path d="M604.9 506.3 L608.6 502.2 L610.6 505.5 L606.5 510 Z" fill="none" stroke="#111" stroke-width="2"/>
<ellipse cx="585.9" cy="495.6" rx="9.2" ry="12.5" transform="rotate(-20 585.9 495.6)" fill="none" stroke="#111" stroke-width="2.4"/>
<path d="M578.9 488.2 L593.7 491.5" fill="none" stroke="#111" stroke-width="2.6"/>
<path d="M578.5 497.3 L593.3 503.9" fill="none" stroke="#111" stroke-width="2.6"/>
<path d="M614.7 511.3 L625 515.4" fill="none" stroke="#111" stroke-width="1.4"/>
<path d="M318.7 427.2 L312.7 426.3 L304.8 426.7 L302.9 430.7 L299.9 447.5 L300.9 456.4 L304.8 472.2 L308.8 480.1 L317.7 484.1" fill="none" stroke="#111" stroke-width="2.4"/>
<path d="M319.7 424.8 L320.1 414.1 L322.6 412.1 L327.6 412.1 L331 414.9 L331.5 422.8 L332.5 428.7" fill="none" stroke="#111" stroke-width="2.6"/>
<path d="M321.8 417.9 L323.6 415.9 L325.6 416.9 L330.3 417.9 L330.7 426.3 L321.8 424.3 Z" fill="#111" stroke="#111" stroke-width="1.5"/>
<path d="M319.2 426.4 L334 431.7 L318.9 454.4 L303.8 447.5 Z" fill="none" stroke="#111" stroke-width="2.4"/>
<ellipse cx="324.1" cy="431.7" rx="3" ry="3" transform="rotate(0 324.1 431.7)" fill="#111" stroke="#111" stroke-width="1"/>
<ellipse cx="318.7" cy="440.1" rx="3" ry="3" transform="rotate(0 318.7 440.1)" fill="#111" stroke="#111" stroke-width="1"/>
<ellipse cx="314.2" cy="448.5" rx="3" ry="3" transform="rotate(0 314.2 448.5)" fill="#111" stroke="#111" stroke-width="1"/>
<path d="M332.5 428.7 L336.5 430.9 L337.6 442.6 L334.5 452.4 L331.5 460.4 L318.7 484.1" fill="none" stroke="#111" stroke-width="2.8"/>
<path d="M335.5 432.2 L335.7 444.5" fill="none" stroke="#111" stroke-width="3"/>
<ellipse cx="320.7" cy="463.4" rx="3.6" ry="5.4" transform="rotate(35 320.7 463.4)" fill="none" stroke="#111" stroke-width="2.6"/>
<path d="M337.6 444.5 L343.4 447.5 L345.9 452.4 L343.4 460.4 L343.6 464.3 L349.3 464.3 L351.3 460 L354.3 462.3 L359.2 464.3" fill="none" stroke="#111" stroke-width="2.4"/>
<path d="M359.2 463.9 C361.7 464.1 369.7 464.2 374 465.3 C378.3 466.4 382.2 468.6 384.9 470.2 C387.6 471.9 389.2 474.5 390 475.4" fill="none" stroke="#111" stroke-width="3.4"/>
<path d="M361.4 466.5 C363.5 467.5 369.6 470.8 374 472.4 C378.5 474.1 385.7 475.7 388.1 476.4" fill="none" stroke="#111" stroke-width="1.8"/>
<g transform="translate(268.4 531)"><text x="0" y="0" font-size="19.5" letter-spacing="-1.2" text-anchor="middle" fill="#111" stroke="#111" stroke-width="0.8">11</text><rect x="-8.32" y="-2.15" width="3.85" height="3.5" fill="#fff" stroke="none"/><rect x="-1.82" y="-2.15" width="3.4" height="3.5" fill="#fff" stroke="none"/><rect x="-0.13" y="-2.15" width="3.85" height="3.5" fill="#fff" stroke="none"/><rect x="6.37" y="-2.15" width="3.4" height="3.5" fill="#fff" stroke="none"/></g>
<path d="M279.7 523.1 L306.5 513" fill="none" stroke="#111" stroke-width="1.5"/>
<path d="M305.5 506 L310.6 500.7 L318.8 503.6 L320.1 511.8 L316 519.2 L308.6 517.1 Z" fill="#111" stroke="#111" stroke-width="2.4"/>
<path d="M309 505.2 L313.1 503.6" fill="none" stroke="#fff" stroke-width="1.6"/>
<path d="M312.7 509.3 L316.8 507.3" fill="none" stroke="#fff" stroke-width="1.6"/>
<path d="M310.2 513.9 L312.3 511.8" fill="none" stroke="#fff" stroke-width="1.4"/>
<path d="M356.9 466.5 L345.6 501.5 L328.1 550.1" fill="none" stroke="#111" stroke-width="2.4"/>
<path d="M389.9 476.4 L378.6 507.7 L362.1 550.1" fill="none" stroke="#111" stroke-width="2.4"/>
<path d="M384.7 495.3 L390.9 492.4 L395.5 499.9 L390.1 511 L382.7 508.9" fill="none" stroke="#111" stroke-width="2.2"/>
<path d="M384.7 504 L387.8 501.5 L389.3 506" fill="none" stroke="#111" stroke-width="1.8"/>
<path d="M319.9 480.9 L323 491.6 L327.1 493.7 L337.4 499.9 L345.6 495.7" fill="none" stroke="#111" stroke-width="2.4"/>
<path d="M324 482.6 L332.2 483 L331.2 491.2 L326.1 489.1 Z" fill="#111" stroke="#111" stroke-width="1.5"/>
<path d="M338.4 498.6 L343.6 491.2 L350.1 487.1 L348.1 495.3 L346 501.5" fill="none" stroke="#111" stroke-width="2.2"/>
<path d="M222.4 568.6 L224.9 565.6 L231.1 563.6 L248.4 564.4 L266.9 571.1 L284.2 578.5 L316.3 578.5" fill="none" stroke="#111" stroke-width="3"/>
<path d="M222.4 568.6 L221.9 573.5 L226.1 578 L232.3 579.2 L236 577.2 L252.1 580.5 L266.9 582.4 L281.7 588.4 L286.9 592.3" fill="none" stroke="#111" stroke-width="2.8"/>
<path d="M236 567.6 L252.1 571.1 L268.1 578 L279.3 584.2" fill="none" stroke="#111" stroke-width="2"/>
<ellipse cx="230.4" cy="572.9" rx="3.2" ry="3" transform="rotate(0 230.4 572.9)" fill="#111" stroke="#111" stroke-width="1"/>
<path d="M283 582.8 L294.1 586.6" fill="none" stroke="#111" stroke-width="2.6" stroke-dasharray="3 1.5" stroke-linecap="butt"/>
<path d="M250.8 581.6 L244.7 591.1 L239.7 592.1" fill="none" stroke="#111" stroke-width="2.6"/>
<path d="M257 582.4 C259.3 581.3 265.8 581.8 266.9 584.2 C268 586.5 265.5 594.6 263.4 596.8 C261.4 598.9 256.5 598 254.8 597 C253.1 596.1 252.9 593.5 253.3 591.1 C253.7 588.6 254.7 583.6 257 582.4 Z" fill="none" stroke="#111" stroke-width="2.6"/>
<path d="M270.8 589.8 C272.9 588.6 278.6 589.7 279.3 591.1 C279.9 592.5 276.6 597.1 274.6 598.2 C272.5 599.4 267.5 599.6 266.9 598.2 C266.3 596.8 268.8 591 270.8 589.8 Z" fill="none" stroke="#111" stroke-width="2.6"/>
<path d="M228.6 588.4 L227.4 594.5 L229.8 603.2 L236 608.4 L243.4 604.7 L249.6 606.9 L264.4 616.8 L279.3 629.1 L287.9 640.3 L294.1 644.2 L300.3 643 L299.3 626.9 L291.6 620.7" fill="none" stroke="#111" stroke-width="3"/>
<path d="M232.3 587.4 L245.9 595.8 L263.2 604.4 L276.8 613.1 L290.4 621.7 L299.3 628.1" fill="none" stroke="#111" stroke-width="2.4"/>
<path d="M266.9 613.1 L284.2 625.4 L294.1 634.1" fill="none" stroke="#111" stroke-width="2"/>
<ellipse cx="234.8" cy="599.5" rx="3.8" ry="3.6" transform="rotate(0 234.8 599.5)" fill="#111" stroke="#111" stroke-width="1"/>
<path d="M289.8 633.5 L295.3 632.8 L295.9 639 L291 639 Z" fill="#111" stroke="#111" stroke-width="1.5"/>
<ellipse cx="286.7" cy="605.7" rx="6.8" ry="6.2" transform="rotate(0 286.7 605.7)" fill="none" stroke="#111" stroke-width="2.8"/>
<ellipse cx="287.9" cy="606.9" rx="2.8" ry="3.4" transform="rotate(0 287.9 606.9)" fill="#111" stroke="#111" stroke-width="1"/>
<path d="M264.4 595.8 L264.4 614.6" fill="none" stroke="#111" stroke-width="3"/>
<path d="M294.1 602 L304 602" fill="none" stroke="#111" stroke-width="2.4"/>
<path d="M338.6 591.1 L308.9 589.8 L306.4 591.1 L301.5 616.8 L306.4 624.2 L326.2 634.1 L329.9 636.8" fill="none" stroke="#111" stroke-width="2.8"/>
<path d="M307.7 598.2 L322.5 597.8 L328.7 599.5 L331.1 607.1 L336.7 593.6" fill="none" stroke="#111" stroke-width="2.6"/>
<path d="M338.6 591.1 L329.9 635.6" fill="none" stroke="#111" stroke-width="2.2"/>
<path d="M329.9 637.2 L333.6 625.7 L360.8 622.5 L364.5 625.7 L363.3 638 L346 639.3 Z" fill="none" stroke="#111" stroke-width="2.6"/>
<path d="M347.8 626.9 L344.7 638.5" fill="none" stroke="#111" stroke-width="1.8"/>
<path d="M333.6 625.7 L360.8 622.5" fill="none" stroke="#111" stroke-width="3.2"/>
<path d="M317.6 581.2 L339.8 590.3" fill="none" stroke="#111" stroke-width="2"/>
<path d="M340.4 590.8 L339.8 575 L354.6 566.4 L358.9 558.7" fill="none" stroke="#111" stroke-width="2.2"/>
<path d="M328 550 L317.1 578.4" fill="none" stroke="#111" stroke-width="2.4"/>
<path d="M362.2 550 L357.2 562.9" fill="none" stroke="#111" stroke-width="2.4"/>
<path d="M357.2 562.9 C358.8 571.9 363.6 600.7 366.5 616.5 C369.4 632.3 372.2 643.7 374.7 657.7 C377.3 671.6 380.8 693 382 700.1" fill="none" stroke="#111" stroke-width="2.4"/>
<path d="M339.3 642.2 L344.9 670 L352.1 700.1" fill="none" stroke="#111" stroke-width="2.2"/>
<path d="M341.8 670 C340.8 671.4 336.5 674.8 336 678.3 C335.5 681.7 336.9 687.3 338.9 690.6 C340.9 693.9 345.8 696.5 348 698 C350.2 699.6 351.4 699.8 352.1 700.1" fill="none" stroke="#111" stroke-width="2.4"/>
<path d="M341.8 688.6 L350 691.7" fill="none" stroke="#111" stroke-width="1.6"/>
<path d="M341.7 655 C342.6 658.3 345.6 668 347.2 674.8 C348.9 681.6 350.5 690.2 351.6 695.8 C352.6 701.3 352.5 703.4 353.4 708.1 C354.3 712.9 355.7 718.6 357.1 724.2 C358.6 729.8 360 736 362.1 741.5 C364.1 747 368.2 754.5 369.5 757.1" fill="none" stroke="#111" stroke-width="2.4"/>
<path d="M375 655 C375.6 657.1 377 662.6 378.1 667.4 C379.3 672.1 380.4 678.5 381.8 683.4 C383.3 688.4 384.7 691.4 386.8 697 C388.8 702.6 391.7 711 394.2 716.8 C396.7 722.5 398.7 726.7 401.6 731.6 C404.5 736.5 408.6 742.2 411.5 746.4 C414.4 750.7 417.7 755.3 418.9 757.1" fill="none" stroke="#111" stroke-width="2.4"/>
<path d="M344.2 668.6 C343.2 669 340 669.5 338.6 671.1 C337.2 672.6 335.8 675.4 335.6 677.9 C335.4 680.3 336.2 683.5 337.4 685.9 C338.5 688.3 340.1 690.6 342.3 692.1 C344.5 693.6 349 694.3 350.3 694.8" fill="none" stroke="#111" stroke-width="2.6"/>
<path d="M337.6 679.7 C338.2 681.2 339 686.4 341.1 688.4 C343.1 690.3 348.3 691 349.7 691.6" fill="none" stroke="#111" stroke-width="1.8"/>
<path d="M351.6 700.7 C350.4 702.4 346.5 707.1 344.8 710.6 C343 714.1 341.6 718.2 341.1 721.7 C340.6 725.2 341 728.3 341.8 731.6 C342.6 734.9 344.1 739 346 741.5 C347.9 744 350.7 745.5 353.4 746.4 C356.1 747.4 360.6 747.1 362.1 747.2" fill="none" stroke="#111" stroke-width="2.4"/>
<path d="M357.7 703.9 C359.5 703.9 365.1 704.7 368.2 703.9 C371.4 703.2 374.4 701.5 376.9 699.5 C379.4 697.5 381.6 693.9 383.1 692.1 C384.5 690.2 385.1 689 385.5 688.4" fill="none" stroke="#111" stroke-width="3"/>
<path d="M358.4 704.4 C358.6 706.1 358.4 710.6 359.6 714.3 C360.8 718 363.3 723.2 365.8 726.7 C368.2 730.2 372.6 733.6 374.4 735.3 C376.3 737 376.5 736.5 376.9 736.8" fill="none" stroke="#111" stroke-width="2.6"/>
<path d="M388 704.4 C386.2 704.4 379.8 703.8 376.9 704.4 C374 705 372 706.5 370.7 708.1 C369.4 709.8 368.9 711.6 369 714.3 C369.1 717 370.1 720.1 371.5 724.2 C372.8 728.3 374.8 734.5 376.9 739 C379 743.6 382.5 748.4 384.3 751.4 C386.2 754.4 387.4 756.1 388 757.1" fill="none" stroke="#111" stroke-width="2.4"/>
<path d="M378.1 666.9 L389.3 672.3 L399.1 664.9 L402.8 665.6 L430 681.7" fill="none" stroke="#111" stroke-width="2.4"/>
<path d="M389.3 672.3 L401.6 699.5 L411.5 694.8 L430 681.7" fill="none" stroke="#111" stroke-width="2.4"/>
<path d="M380 668.6 L381.3 678.5 L389.3 674.8" fill="none" stroke="#111" stroke-width="2"/>
<path d="M394.2 678.7 L404.1 697" fill="none" stroke="#111" stroke-width="1.8"/>
<path d="M397.9 682.4 L409 688.6" fill="none" stroke="#111" stroke-width="1.6"/>
<path d="M383.1 685.9 C384.5 687.3 388.2 691.2 391.7 694.5 C395.2 697.8 401 702.6 404.1 705.7 C407.2 708.7 409.4 710.8 410.3 713.1 C411.1 715.3 411.1 717.4 409.3 719.3 C407.4 721.1 400.8 723.6 399.1 724.4" fill="none" stroke="#111" stroke-width="2.4"/>
<path d="M475 682.4 L460.9 692.1" fill="none" stroke="#111" stroke-width="2.4"/>
<path d="M418.9 719.3 L423.8 716.8 L422.1 703.4 L427.6 699.5 L442.4 690.8 L445.5 694.5 L469.6 695.8" fill="none" stroke="#111" stroke-width="3.2"/>
<path d="M426.3 708.4 C429.2 708.3 439.5 707.8 443.6 708.1 C447.7 708.5 449 709.4 451 710.6 C453.1 711.8 453.5 713.9 456 715.5 C458.4 717.2 462.7 719 465.9 720.5 C469 721.9 473.5 723.6 475 724.2" fill="none" stroke="#111" stroke-width="2.6"/>
<path d="M448.6 706.3 L464.6 697" fill="none" stroke="#111" stroke-width="1.6"/>
<path d="M400.4 727.9 L423.8 716.8 L443.6 709.4" fill="none" stroke="#111" stroke-width="2.4"/>
<path d="M401.6 730.4 C402.8 732.2 407 739.4 409 741.5 C411.1 743.6 410.3 744 414 743 C417.7 741.9 425.5 738.4 431.3 735.3 C437 732.2 444.6 727.3 448.6 724.2 C452.5 721.1 453.7 718 454.7 716.8" fill="none" stroke="#111" stroke-width="2.4"/>
<path d="M477.1 680 C475.6 681.4 471.9 686.3 468.4 688.6 C464.9 691 460.8 692.9 456.1 694.3 C451.3 695.8 442.7 696.8 440 697.3" fill="none" stroke="#111" stroke-width="2.4"/>
<path d="M464.7 698 L449.3 706.7" fill="none" stroke="#111" stroke-width="1.6"/>
<ellipse cx="471.5" cy="710.6" rx="7.2" ry="4.4" transform="rotate(-5 471.5 710.6)" fill="none" stroke="#111" stroke-width="3.0"/>
<path d="M478.3 703 C480.2 702.8 486.5 701.3 489.4 701.7 C492.3 702.2 494.6 705.2 495.6 705.9" fill="none" stroke="#111" stroke-width="4"/>
<path d="M495.6 705.9 C496.2 707 498.3 709.9 499.3 712.1 C500.3 714.4 500.1 716.4 501.8 719.5 C503.4 722.6 506.7 727.3 509.2 730.7 C511.7 734 515.4 738.1 516.6 739.6" fill="none" stroke="#111" stroke-width="2.6"/>
<path d="M440 709.2 C441.2 709 445.1 707.9 447.4 708.4 C449.7 708.9 452.1 710.7 453.6 712.1 C455 713.6 454.4 715.5 456.1 717.1 C457.7 718.6 461.4 720.4 463.5 721.5 C465.5 722.7 467 723.7 468.4 724 C469.9 724.3 470.9 722.8 472.1 723.2 C473.4 723.7 475.2 725.9 475.8 726.5" fill="none" stroke="#111" stroke-width="2.6"/>
<path d="M456.1 717.1 C454.6 718.5 450.1 723.5 447.4 725.7 C444.7 728 441.2 729.8 440 730.7" fill="none" stroke="#111" stroke-width="2.4"/>
<path d="M475.8 726.5 L495.6 715.8 L498.1 713.4" fill="none" stroke="#111" stroke-width="2.2"/>
<path d="M475.8 726.5 L483.2 738.1 L494.4 752.9" fill="none" stroke="#111" stroke-width="3"/>
<path d="M494.4 752.9 L509.2 745.5 L525.3 736.8 L526.5 734.6 L531.4 734.4" fill="none" stroke="#111" stroke-width="2.6"/>
<path d="M440 765.3 L482 739.3" fill="none" stroke="#111" stroke-width="2.4"/>
<path d="M584.6 680 C583.3 681.6 580.7 685.6 577.1 689.9 C573.6 694.2 568.3 701 563.6 705.9 C558.8 710.9 554.1 714.8 548.7 719.5 C543.4 724.3 534.3 731.9 531.4 734.4" fill="none" stroke="#111" stroke-width="2.4"/>
<path d="M590 715.2 C587.7 718 580.7 727.1 575.9 731.9 C571.1 736.7 565.6 741 561.1 744.3 C556.6 747.5 550.8 750.4 548.7 751.7" fill="none" stroke="#111" stroke-width="2.4"/>
<path d="M530.2 736.8 L548.7 751.7 L561.1 765.3 L560.6 772.7 L548.7 778.8" fill="none" stroke="#111" stroke-width="2.6"/>
<path d="M526.5 739.3 L535.1 752.9" fill="none" stroke="#111" stroke-width="2"/>
<path d="M533.9 754.1 L542.6 759.1 L554.9 766.7" fill="none" stroke="#111" stroke-width="2"/>
<ellipse cx="543.2" cy="769.6" rx="5" ry="4.6" transform="rotate(-30 543.2 769.6)" fill="#111" stroke="#111" stroke-width="1"/>
<path d="M546.3 775.1 L557.4 770.2" fill="none" stroke="#111" stroke-width="2"/>
<path d="M507.3 749.2 L514.1 746.7 L516.1 752.9 L511.7 755.6 L509.2 757.8" fill="none" stroke="#111" stroke-width="2.4"/>
<path d="M463.5 771.7 C464.9 770.4 468.2 766.5 472.1 764.3 C476 762 482 759.6 487 758.3 C491.9 757.1 499.3 757.1 501.8 756.9" fill="none" stroke="#111" stroke-width="4.4"/>
<path d="M440 773.9 C442.1 774.2 448.4 775.7 452.4 775.4 C456.3 775.1 461.6 772.7 463.5 772.2" fill="none" stroke="#111" stroke-width="2.4"/>
<path d="M477.1 766.5 L494.4 765.3 L489.4 771.4 L477.1 782.1" fill="none" stroke="#111" stroke-width="2.4"/>
<path d="M509.2 757.3 C510.4 756.8 513.7 754.3 516.6 754.1 C519.5 754 523.8 755.2 526.5 756.6 C529.2 758 531.2 760.7 532.7 762.8 C534.1 764.9 535.3 766.9 535.1 769.2 C534.9 771.5 533.3 774.2 531.4 776.4 C529.6 778.5 525.3 781.1 524 782.1" fill="none" stroke="#111" stroke-width="2.4"/>
<ellipse cx="512.9" cy="769.6" rx="5" ry="2.8" transform="rotate(-5 512.9 769.6)" fill="#111" stroke="#111" stroke-width="1"/>
<path d="M485.7 773.9 L493.1 778.8 L499.3 782.1" fill="none" stroke="#111" stroke-width="2.2"/>
<path d="M400 771.3 C401.6 772.9 405.8 777.6 409.9 781.2 C414 784.8 419.5 789.8 424.7 792.7 C429.9 795.6 435.1 797.8 441.2 798.6 C447.2 799.5 454.6 798.9 461 797.7 C467.3 796.4 473.9 793 479.1 791.1 C484.3 789.1 487.9 786.4 492.3 786.1 C496.7 785.9 500.2 789.3 505.4 789.4 C510.7 789.6 518.3 788.7 523.6 787.1 C528.8 785.5 533.9 781.8 536.7 779.9 C539.5 777.9 539.8 776.2 540.4 775.4" fill="none" stroke="#111" stroke-width="2.4"/>
<path d="M406.6 740 C408 742.2 411.3 748.8 414.8 753.2 C418.4 757.6 423.3 762.9 428 766.4 C432.7 769.8 438.2 772.8 442.8 773.9 C447.5 775 452.4 773.7 456 772.9 C459.6 772.2 463.2 770.2 464.6 769.7" fill="none" stroke="#111" stroke-width="2.4"/>
<path d="M470.8 787.8 L472.5 782.8 L482.4 772.9 L493.9 766.4 L495.9 769 L485.7 775.6 L477.4 787.8 L472.5 790.4 Z" fill="none" stroke="#111" stroke-width="2.2"/>
<path d="M485.7 774.9 C486.8 776 489 779.7 492.3 781.2 C495.6 782.7 500.5 783.8 505.4 783.8 C510.4 783.8 517.2 782.7 521.9 781.2 C526.6 779.6 531 776.8 533.4 774.6 C535.9 772.4 537 770.7 536.7 768 C536.5 765.3 532.6 760 531.8 758.5" fill="none" stroke="#111" stroke-width="2.4"/>
<path d="M548.3 751.5 L560.8 764.7 L559.8 772.9 L545 781.2 L539.4 779.5" fill="none" stroke="#111" stroke-width="2.6"/>
<path d="M543.3 775.6 L553.2 770.6" fill="none" stroke="#111" stroke-width="1.8"/>
<path d="M369.5 757 C371.1 758.7 376.2 765 379.5 767.6 C382.9 770.1 385.8 771.3 389.4 772.5 C393 773.8 399.3 774.6 401.3 775.1" fill="none" stroke="#111" stroke-width="2.4"/>
<path d="M387.9 757 C389.2 758.6 393.3 764.2 395.4 766.6 C397.4 769 399.5 770.7 400.3 771.5" fill="none" stroke="#111" stroke-width="2.4"/>
<path d="M434.9 768.7 L440.8 765.2" fill="none" stroke="#111" stroke-width="2.4"/>
<path d="M738.7 155.4 L735.2 164.3 L734.6 170.2 L738.6 173.3 L746.5 173.3 L749.4 169.2 L750 157.3 L748.4 153.9" fill="none" stroke="#111" stroke-width="2.6"/>
<path d="M741 153.4 C741.3 154 741.6 156.3 742.5 156.9 C743.4 157.5 745.5 157.4 746.5 156.9 C747.4 156.4 748.1 154.5 748.4 154" fill="none" stroke="#111" stroke-width="2"/>
<path d="M739.5 166.4 L745 166.4" fill="none" stroke="#111" stroke-width="2.6"/>
<path d="M737.6 172.7 L747.4 172.7" fill="none" stroke="#111" stroke-width="2.4"/>
<g transform="translate(559.2 589)"><text x="0" y="0" font-size="19.5" letter-spacing="-1.2" text-anchor="middle" fill="#111" stroke="#111" stroke-width="0.8">10</text><rect x="-9.05" y="-2.15" width="3.85" height="3.5" fill="#fff" stroke="none"/><rect x="-2.55" y="-2.15" width="2.99" height="3.5" fill="#fff" stroke="none"/></g>
<path d="M570.9 565.4 L566.6 571.9" fill="none" stroke="#111" stroke-width="1.5"/>
<path d="M567.2 498.7 L561.1 507.4 L556.1 518.5 L554.3 524.9" fill="none" stroke="#111" stroke-width="3"/>
<path d="M569.7 499.9 L614.2 528.4 L667.3 567.9" fill="none" stroke="#111" stroke-width="1.8"/>
<path d="M557.4 518.5 L582.1 533.6 L592 537.3" fill="none" stroke="#111" stroke-width="3.2"/>
<path d="M559.8 522.8 L580.8 535.8" fill="none" stroke="#111" stroke-width="1.6"/>
<path d="M614.2 552.1 L653.7 579.3 L655.7 584.2" fill="none" stroke="#111" stroke-width="3.2"/>
<path d="M613 555.5 L650 581.5" fill="none" stroke="#111" stroke-width="1.6"/>
<path d="M653.7 580.3 L668.6 570.6 L667.3 567.9" fill="none" stroke="#111" stroke-width="2.2"/>
<ellipse cx="583.3" cy="522.8" rx="2.6" ry="2.2" transform="rotate(0 583.3 522.8)" fill="none" stroke="#111" stroke-width="2.0"/>
<ellipse cx="637.7" cy="556.2" rx="2.6" ry="2.2" transform="rotate(0 637.7 556.2)" fill="none" stroke="#111" stroke-width="2.0"/>
<path d="M582.1 543.4 L603.1 543.4 L603.1 553.1 L582.1 553.1 Z" fill="#111" stroke="#111" stroke-width="2"/>
<path d="M589.5 546.3 L595.7 546.3" fill="none" stroke="#fff" stroke-width="1.6"/>
<path d="M592.6 546.3 L592.6 551.2" fill="none" stroke="#fff" stroke-width="1.6"/>
<path d="M600 545.7 L597.5 551.6" fill="none" stroke="#fff" stroke-width="1.6"/>
<path d="M603.1 544.4 L609.3 545.7 L610.5 553.1 L605.5 561.7 L600.8 559.5" fill="none" stroke="#111" stroke-width="2.6"/>
<path d="M585.8 534.5 L596.9 542" fill="none" stroke="#111" stroke-width="3"/>
<path d="M578.4 539.5 L577.4 548.4" fill="none" stroke="#111" stroke-width="2.6" stroke-dasharray="3 2" stroke-linecap="butt"/>
<path d="M567.2 554.6 L572.2 549.4 L579.6 550.6 L580.8 556.8 L578.4 561.7 L570.9 563.2 L567.2 559.3 Z" fill="none" stroke="#111" stroke-width="2.6"/>
<path d="M571.6 552.5 L575.3 555.5 L579 553.1" fill="none" stroke="#111" stroke-width="3"/>
<path d="M605.9 518.2 L607.1 525.3" fill="none" stroke="#111" stroke-width="1.6" stroke-dasharray="3 2" stroke-linecap="butt"/>
<path d="M611.5 535.8 L612.3 588.9" fill="none" stroke="#111" stroke-width="1.6" stroke-dasharray="9 2.5 1.5 2.5" stroke-linecap="butt"/>
<path d="M574.7 499.9 C575.3 501.2 576.5 505.5 578.4 507.4 C580.2 509.2 583.1 511.2 585.8 511.1 C588.5 510.9 592.2 507 594.4 506.4 C596.7 505.7 597.9 506.2 599.4 507.4 C600.8 508.6 601.4 512.7 603.1 513.5 C604.7 514.4 607.4 513.5 609.3 512.3 C611.1 511.1 613.1 509 614.2 506.1 C615.3 503.2 615.4 496.9 615.7 495" fill="none" stroke="#111" stroke-width="2.6"/>
<path d="M604.6 506.4 L609.3 501.2 L611.7 502.4 L607 508.8 Z" fill="none" stroke="#111" stroke-width="2.4"/>
<path d="M617.9 511.1 L624.1 514.8" fill="none" stroke="#111" stroke-width="1.6" stroke-dasharray="3 2" stroke-linecap="butt"/>
<path d="M561.1 597.1 L588.2 579.3 L593.4 574.1 L594.7 569.1 L598.1 565.4 L603.1 567.9 L599.4 575.3 L595.9 579.3" fill="none" stroke="#111" stroke-width="2.6"/>
<path d="M604.6 569.1 L605.8 581.5 L604.6 585.4" fill="none" stroke="#111" stroke-width="2.2"/>
<path d="M594.4 597.1 L587.8 588.9 L588.2 584 L592 581.5 L604.3 586.7 L619.1 597.1" fill="none" stroke="#111" stroke-width="2.4"/>
<path d="M563.2 635.5 L555.8 636.7 L544.7 633 L541.7 630.5 L544.7 625.6 L550.4 617 L550.9 603.4 L560.8 598.4 L579.3 586.1 L586.7 579.9 L590.4 577.4" fill="none" stroke="#111" stroke-width="3"/>
<ellipse cx="571.9" cy="618.8" rx="9.4" ry="12.8" transform="rotate(18 571.9 618.8)" fill="none" stroke="#111" stroke-width="5.2"/>
<ellipse cx="571.9" cy="619.2" rx="4.6" ry="6.4" transform="rotate(18 571.9 619.2)" fill="none" stroke="#111" stroke-width="2.2"/>
<path d="M561.5 606.6 C560.8 608.7 557.6 615.6 557.3 619.4 C557 623.2 558.3 626.8 559.5 629.3 C560.8 631.8 563.9 633.6 564.7 634.5" fill="none" stroke="#111" stroke-width="2"/>
<path d="M584.3 619.7 L589.2 617.7 L600.3 612.8" fill="none" stroke="#111" stroke-width="2.2"/>
<path d="M594.1 617 C593.3 616.7 590.3 617.4 589.2 615.7 C588.1 614.1 587.5 609.9 587.5 607.1 C587.5 604.2 588.1 600.6 589.2 598.7 C590.3 596.7 591.7 595.1 594.1 595.5 C596.6 595.8 602.4 600 604 600.9" fill="none" stroke="#111" stroke-width="2.6"/>
<path d="M592.9 596.7 C592.6 598.2 591.2 603.1 591.2 605.8 C591.2 608.6 592.6 612 592.9 613.2" fill="none" stroke="#111" stroke-width="2"/>
<ellipse cx="600.9" cy="606.5" rx="3.6" ry="4.2" transform="rotate(15 600.9 606.5)" fill="none" stroke="#111" stroke-width="3.0"/>
<path d="M606.5 609.5 L611.4 612.8" fill="none" stroke="#111" stroke-width="2.2"/>
<path d="M588.7 589.8 L587.5 586.1 L589.2 582.4 L592.9 581.9 L609 591 L631.2 604.1" fill="none" stroke="#111" stroke-width="2.4"/>
<path d="M588.7 589.8 L594.1 593 L609 600.9 L627.5 612" fill="none" stroke="#111" stroke-width="2.4"/>
<path d="M609 591.3 L610.9 603.4" fill="none" stroke="#111" stroke-width="2.2"/>
<path d="M611.4 570 L611.4 588.5" fill="none" stroke="#111" stroke-width="1.6" stroke-dasharray="7 2.5 1.5 2.5" stroke-linecap="butt"/>
<path d="M523.7 619.4 L526.9 621.9 L524.9 628.1 L527.4 630.8 L534.3 629.3 L536.8 619.4 L537.3 611 L528.6 610.8 L524.9 614.5 L524.4 619.4" fill="none" stroke="#111" stroke-width="2.6"/>
<path d="M527.4 613.2 L532.4 612.6 L531.7 617.6 L527.7 617.6 Z" fill="#111" stroke="#111" stroke-width="1.5"/>
<path d="M520 623.4 L537.3 633.3 L592.9 667.6" fill="none" stroke="#111" stroke-width="2.4"/>
<path d="M520 651.5 L576.6 687.3" fill="none" stroke="#111" stroke-width="2.4"/>
<path d="M612.7 663.4 L634.9 651.8" fill="none" stroke="#111" stroke-width="2.4"/>
<path d="M554.3 524.9 C551.7 531.1 543.8 550.1 538.8 561.8 C533.9 573.4 528.6 585.2 524.4 594.7 C520.3 604.3 515.9 615 514.1 619" fill="none" stroke="#111" stroke-width="2.4"/>
<path d="M503.8 644.2 C501.1 648.5 491.8 664.1 487.4 670.1 C482.9 676.1 478.8 678.3 477.1 680" fill="none" stroke="#111" stroke-width="2.4"/>
<path d="M505.9 576.6 L470.9 557.7 L456.5 565.9 L457.7 571.3 L497.7 594.7" fill="none" stroke="#111" stroke-width="2.4"/>
<path d="M457.7 568 L499.7 590.6" fill="none" stroke="#111" stroke-width="1.4"/>
<ellipse cx="472.9" cy="566.5" rx="2.8" ry="2" transform="rotate(0 472.9 566.5)" fill="none" stroke="#111" stroke-width="1.8"/>
<ellipse cx="492.5" cy="578.3" rx="2.8" ry="2" transform="rotate(0 492.5 578.3)" fill="none" stroke="#111" stroke-width="1.8"/>
<path d="M512.5 618.6 C510.7 619.1 504.4 619.6 501.8 621.5 C499.2 623.4 497.2 626.6 496.8 629.7 C496.5 632.9 499.2 638.7 499.7 640.4" fill="none" stroke="#111" stroke-width="2.6" stroke-dasharray="2.5 2.5" stroke-linecap="butt"/>
<path d="M512.1 618.6 L520 623.4" fill="none" stroke="#111" stroke-width="2.4"/>
<path d="M499.7 640.4 L520 650.5" fill="none" stroke="#111" stroke-width="2.4"/>
<g transform="translate(615.9 766)"><text x="0" y="0" font-size="19.5" letter-spacing="-1.2" text-anchor="middle" fill="#111" stroke="#111" stroke-width="0.8">3</text></g>
<g transform="translate(683.9 769)"><text x="0" y="0" font-size="19.5" letter-spacing="-1.2" text-anchor="middle" fill="#111" stroke="#111" stroke-width="0.8">2</text></g>
<g transform="translate(719.9 778.5)"><text x="0" y="0" font-size="19.5" letter-spacing="-1.2" text-anchor="middle" fill="#111" stroke="#111" stroke-width="0.8">4</text></g>
<path d="M638.6 716.8 L620 746" fill="none" stroke="#111" stroke-width="1.5"/>
<path d="M712.7 713.7 L688 750.1" fill="none" stroke="#111" stroke-width="1.5"/>
<path d="M749 728 L728 757.6" fill="none" stroke="#111" stroke-width="1.5"/>
<path d="M709.5 384 L718.7 375.6 L727.3 377.4 L728.3 388.5 L726.6 394 L720 399.8 L713.5 399.8 L711.5 396.5 Z" fill="none" stroke="#111" stroke-width="2.4"/>
<path d="M721.7 377.8 L716.2 386.3 L716.7 395.7 L720.5 397.5" fill="none" stroke="#111" stroke-width="2"/>
<path d="M711.5 386.5 L715.8 387.8 L716.4 395.7 L719.5 398 L713.8 398.8 L712.3 396 Z" fill="#111" stroke="#111" stroke-width="1.6"/>
<path d="M713.5 398.6 L720 398.6" fill="none" stroke="#111" stroke-width="3"/>
<ellipse cx="721.6" cy="387.3" rx="1.7" ry="3.3" transform="rotate(8 721.6 387.3)" fill="#111" stroke="#111" stroke-width="1"/>
<path d="M834.5 459.6 L843.7 451.2 L852.3 453 L853.3 464.1 L851.6 469.6 L845 475.4 L838.5 475.4 L836.5 472.1 Z" fill="none" stroke="#111" stroke-width="2.4"/>
<path d="M846.7 453.4 L841.2 461.9 L841.7 471.3 L845.5 473.1" fill="none" stroke="#111" stroke-width="2"/>
<path d="M836.5 462.1 L840.8 463.4 L841.4 471.3 L844.5 473.6 L838.8 474.4 L837.3 471.6 Z" fill="#111" stroke="#111" stroke-width="1.6"/>
<path d="M838.5 474.2 L845 474.2" fill="none" stroke="#111" stroke-width="3"/>
<ellipse cx="846.6" cy="462.9" rx="1.7" ry="3.3" transform="rotate(8 846.6 462.9)" fill="#111" stroke="#111" stroke-width="1"/>
<circle cx="220.4" cy="2.5" r="1.0" fill="#333" stroke="none"/>
<circle cx="223.6" cy="23" r="0.9" fill="#333" stroke="none"/>
<circle cx="217.8" cy="44.5" r="1.0" fill="#333" stroke="none"/>
<circle cx="224.5" cy="42" r="0.7" fill="#333" stroke="none"/>
<circle cx="252" cy="41" r="0.8" fill="#333" stroke="none"/>
<circle cx="216.8" cy="57" r="0.7" fill="#333" stroke="none"/>
<circle cx="216.8" cy="63" r="0.5" fill="#333" stroke="none"/>
<circle cx="216.8" cy="69" r="0.7" fill="#333" stroke="none"/>
<circle cx="230.5" cy="264" r="0.6" fill="#333" stroke="none"/>
<circle cx="218" cy="464" r="0.6" fill="#333" stroke="none"/>
<circle cx="232" cy="741" r="0.6" fill="#333" stroke="none"/>
<circle cx="232" cy="773" r="0.6" fill="#333" stroke="none"/>
<circle cx="914.4" cy="149.4" r="0.7" fill="#333" stroke="none"/>
</svg>
</body></html>
